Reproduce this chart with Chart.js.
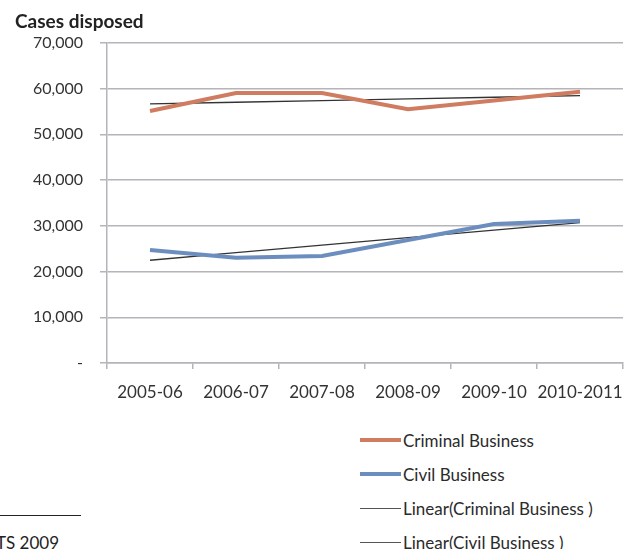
<!DOCTYPE html>
<html>
<head>
<meta charset="utf-8">
<script src="https://cdn.jsdelivr.net/npm/chart.js@4/dist/chart.umd.min.js"></script>
<style>
  html, body { margin: 0; padding: 0; background: #fff; overflow: hidden; }
  body { width: 630px; height: 549px; position: relative; font-family: Lato, "Open Sans", sans-serif; color: #2b2b2b; }
  #wrap { position: absolute; left: 0; top: 0; width: 630px; height: 410px; }
  #legend { position: absolute; left: 360px; top: 423px; }
  .item { height: 34px; display: flex; align-items: center; font-size: 17px; white-space: nowrap; }
  .item .sw { width: 41px; margin-right: 2px; }
  #rule { position: absolute; left: 0; top: 515px; width: 81px; height: 0; border-top: 1px solid #222; }
  #note { position: absolute; left: -4px; top: 532px; font-size: 17px; color: #222; }
</style>
</head>
<body>
<div id="wrap"><canvas id="chart"></canvas></div>
<div id="legend"></div>
<div id="rule"></div>
<div id="note">TS 2009</div>
<script>
// Cases disposed per year
const years = ['2005-06', '2006-07', '2007-08', '2008-09', '2009-10', '2010-2011'];
const criminalBusiness = [55100, 59000, 59000, 55500, 57400, 59300];
const civilBusiness = [24700, 23000, 23400, 26900, 30400, 31100];
const yTicks = [0, 10000, 20000, 30000, 40000, 50000, 60000, 70000];

// Least-squares linear trend of a series
function linearTrend(values) {
  const n = values.length;
  const mx = (n - 1) / 2;
  const my = values.reduce((a, b) => a + b, 0) / n;
  let num = 0, den = 0;
  values.forEach((v, i) => { num += (i - mx) * (v - my); den += (i - mx) * (i - mx); });
  const slope = num / den;
  return values.map((_, i) => my + slope * (i - mx));
}

const gridColor = '#b4b4ba';
const textColor = '#333333';
const fontFamily = 'Lato, "Open Sans", sans-serif';

const datasets = [
  { label: 'Criminal Business', data: criminalBusiness, borderColor: '#cf7c60', borderWidth: 4 },
  { label: 'Civil Business', data: civilBusiness, borderColor: '#6c8ebf', borderWidth: 4 },
  { label: 'Linear(Criminal Business )', data: linearTrend(criminalBusiness), borderColor: '#333333', borderWidth: 1.3 },
  { label: 'Linear(Civil Business )', data: linearTrend(civilBusiness), borderColor: '#333333', borderWidth: 1.3 }
].map(d => Object.assign({ pointRadius: 0, tension: 0, fill: false }, d));

const chart = new Chart(document.getElementById('chart'), {
  type: 'line',
  data: { labels: years, datasets },
  options: {
    responsive: true,
    maintainAspectRatio: false,
    animation: false,
    layout: { padding: { left: 15, right: 7, top: 0, bottom: 0 } },
    plugins: {
      legend: { display: false },
      tooltip: { enabled: false },
      title: {
        display: true,
        text: 'Cases disposed',
        align: 'start',
        color: '#222',
        font: { family: fontFamily, size: 19, weight: 'bold' },
        padding: { top: 10, bottom: 10 }
      }
    },
    scales: {
      x: {
        offset: true,
        grid: { display: true, drawOnChartArea: false, drawTicks: true, tickLength: 6, color: gridColor, lineWidth: 1.5, offset: true },
        border: { display: true, color: gridColor, width: 1.5 },
        ticks: { color: textColor, font: { family: fontFamily, size: 17 }, padding: 13, maxRotation: 0, autoSkip: false },
        afterFit: s => { s.height = 47; s.paddingLeft = 0; s.paddingRight = 0; }
      },
      y: {
        min: 0,
        max: 70000,
        afterBuildTicks: s => { s.ticks = yTicks.map(v => ({ value: v })); },
        grid: { color: gridColor, lineWidth: 1.5, tickLength: 7 },
        border: { display: true, color: gridColor, width: 1.5 },
        ticks: {
          color: textColor,
          font: { family: fontFamily, size: 16 },
          padding: 17,
          callback: v => v === 0 ? '-' : v.toLocaleString('en-US')
        },
        afterFit: s => { s.width = 92; }
      }
    }
  }
});

// Legend listing each series with its line style
const legend = document.getElementById('legend');
chart.data.datasets.forEach(ds => {
  const item = document.createElement('div');
  item.className = 'item';
  const sw = document.createElement('span');
  sw.className = 'sw';
  sw.style.borderTop = ds.borderWidth + 'px solid ' + (ds.borderWidth > 2 ? ds.borderColor : '#555');
  const label = document.createElement('span');
  label.textContent = ds.label;
  item.appendChild(sw);
  item.appendChild(label);
  legend.appendChild(item);
});
</script>
</body>
</html>
